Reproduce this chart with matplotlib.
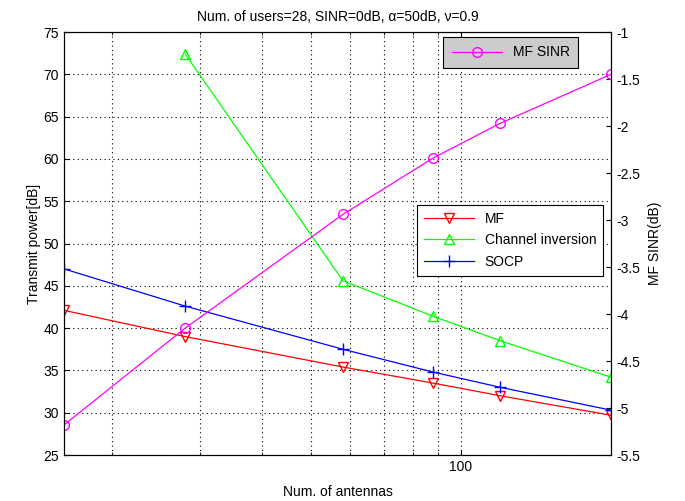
import matplotlib
matplotlib.use('Agg')
import matplotlib.pyplot as plt
from matplotlib.ticker import FixedLocator, NullFormatter, ScalarFormatter

plt.rcParams['font.family'] = ['Liberation Sans', 'DejaVu Sans']
plt.rcParams['font.size'] = 10

# datos
antenas = [16, 28, 58, 88, 120, 200]
mf = [42.1, 39.0, 35.4, 33.5, 32.0, 29.7]
socp = [47.0, 42.6, 37.5, 34.8, 33.0, 30.3]
antenas_ci = [28, 58, 88, 120, 200]
channel_inv = [72.4, 45.6, 41.4, 38.5, 34.2]
mf_sinr = [-5.18, -4.15, -2.94, -2.34, -1.97, -1.45]

fig = plt.figure(figsize=(6.85, 5.01), dpi=100)
ax = fig.add_axes([0.0934, 0.0918, 0.7986, 0.8443])
ax2 = ax.twinx()

l1, = ax.plot(antenas, mf, color='#ff0000', marker='v', mfc='none', ms=7, lw=0.9, label='MF')
l2, = ax.plot(antenas_ci, channel_inv, color='#00ff00', marker='^', mfc='none', ms=7, lw=0.9, label='Channel inversion')
l3, = ax.plot(antenas, socp, color='#0000ff', marker='+', ms=9, lw=0.9, label='SOCP')
l4, = ax2.plot(antenas, mf_sinr, color='#ff00ff', marker='o', mfc='none', ms=7, lw=0.9, label='MF SINR')

ax.set_xscale('log')
ax.set_xlim(16, 200)
ax.set_ylim(25, 75)
ax.set_yticks(range(25, 80, 5))
ax.xaxis.set_major_locator(FixedLocator([100]))
ax.xaxis.set_major_formatter(ScalarFormatter())
ax.xaxis.set_minor_locator(FixedLocator([20, 30, 40, 50, 60, 70, 80, 90, 200]))
ax.xaxis.set_minor_formatter(NullFormatter())
grid_ls = (0, (1, 3))
ax.grid(True, which='both', axis='x', linestyle=grid_ls, color='black', lw=0.8)
ax.grid(True, which='major', axis='y', linestyle=grid_ls, color='black', lw=0.8)
ax.tick_params(direction='in', which='both', top=True)
ax.tick_params(which='minor', length=2)

ax2.set_ylim(-5.5, -1)
ax2.set_yticks([-1, -1.5, -2, -2.5, -3, -3.5, -4, -4.5, -5, -5.5])
ax2.set_yticklabels(['-1', '-1.5', '-2', '-2.5', '-3', '-3.5', '-4', '-4.5', '-5', '-5.5'])
ax2.tick_params(direction='in')

ax.set_xlabel('Num. of antennas', labelpad=8)
ax.set_ylabel('Transmit power[dB]', labelpad=2)
ax2.set_ylabel('MF SINR(dB)', labelpad=6)
ax.set_title('Num. of users=28, SINR=0dB, α=50dB, ν=0.9', fontsize=10, pad=8)

leg1 = ax2.legend(handles=[l4], loc='upper right', bbox_to_anchor=(0.94, 0.988),
                  fancybox=False, framealpha=1, facecolor='#cccccc', edgecolor='black',
                  handlelength=3.6, borderaxespad=0, borderpad=0.6)
leg1.get_frame().set_linewidth(0.8)
ax2.add_artist(leg1)
leg2 = ax2.legend(handles=[l1, l2, l3], loc='upper right', bbox_to_anchor=(0.986, 0.592),
                  fancybox=False, framealpha=1, facecolor='white', edgecolor='black',
                  handlelength=3.6, borderaxespad=0, labelspacing=0.55, borderpad=0.5)
leg2.get_frame().set_linewidth(0.8)

fig.savefig('out.png', dpi=100)
